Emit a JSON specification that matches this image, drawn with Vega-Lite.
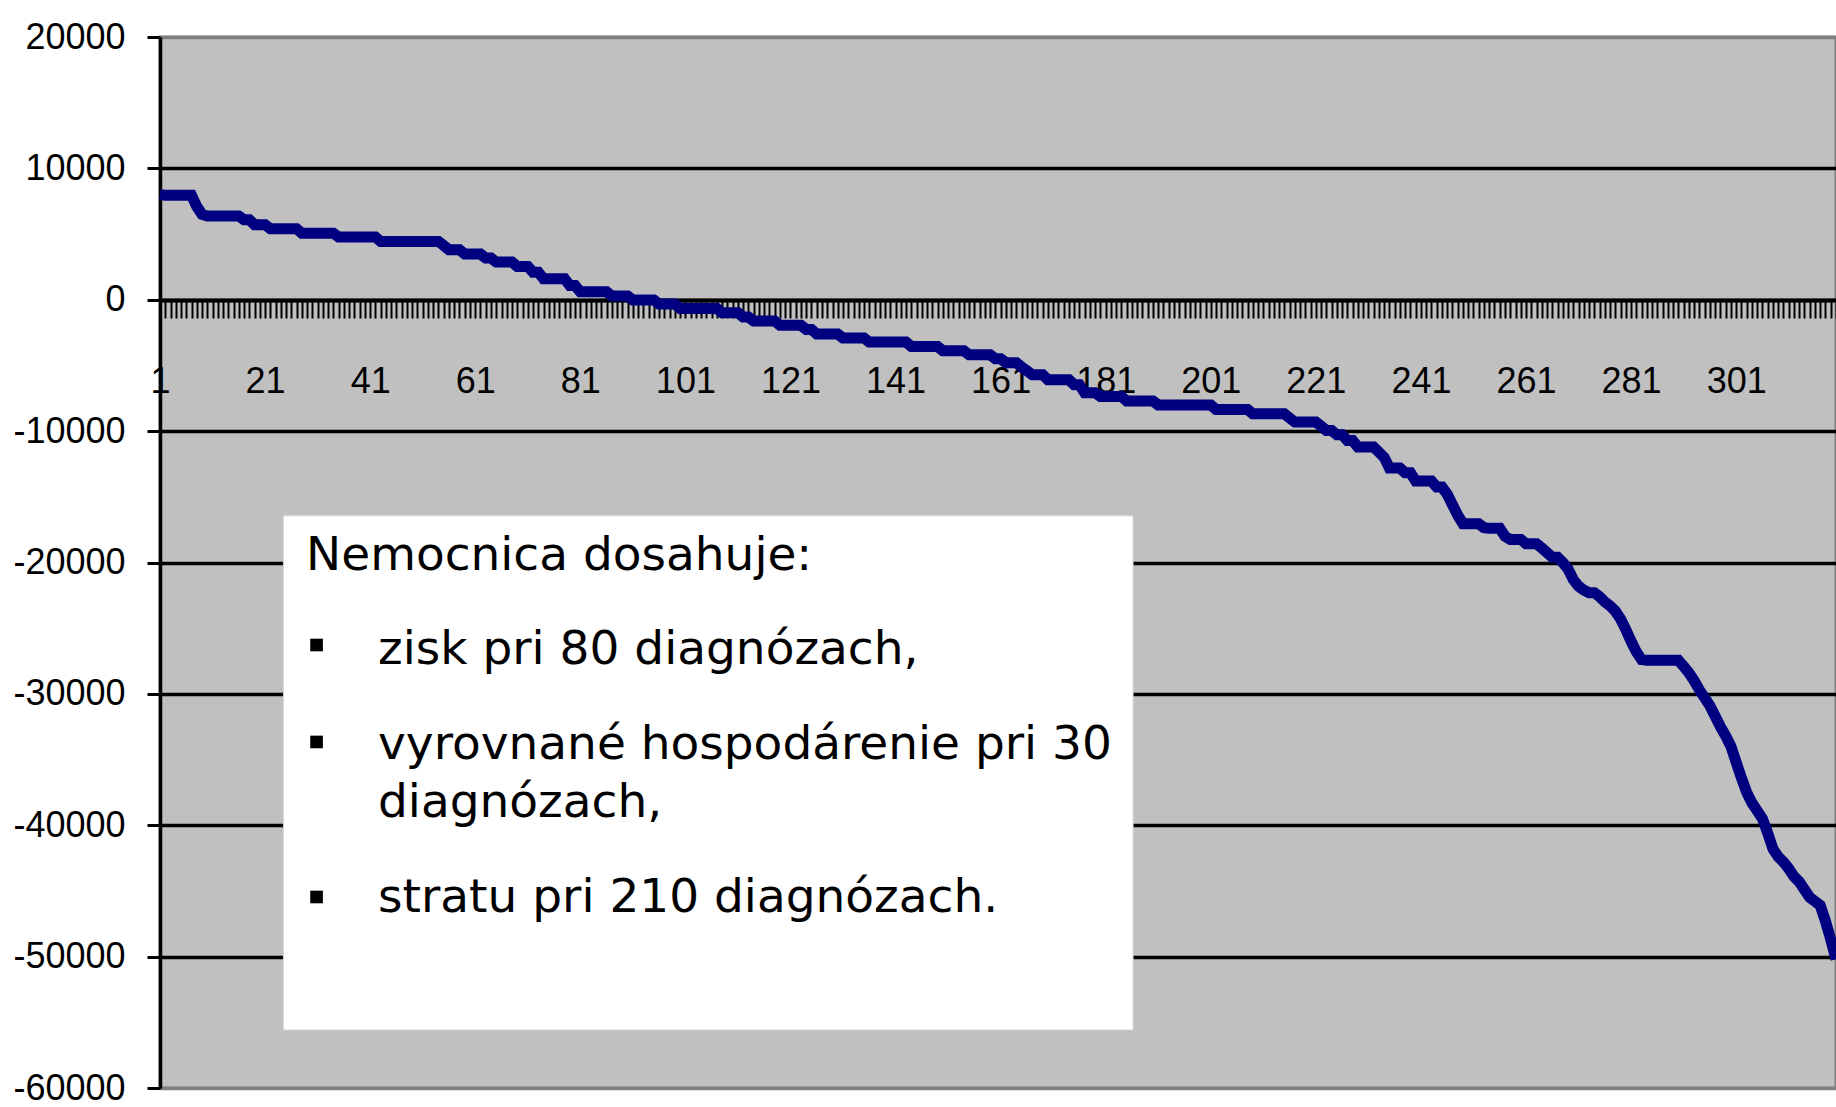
{
  "$schema": "https://vega.github.io/schema/vega-lite/v6.json",
  "width": 1676,
  "height": 1051,
  "autosize": {"type": "none"},
  "padding": {"left": 160, "top": 37, "right": 0, "bottom": 19},
  "background": "white",
  "config": {
    "view": {"fill": "#C0C0C0", "stroke": "#808080", "strokeWidth": 3}
  },
  "datasets": {
    "curve": [
      {"diag":1,"value":8000},{"diag":2,"value":7950},{"diag":3,"value":7950},{"diag":4,"value":7950},{"diag":5,"value":7950},{"diag":6,"value":7950},{"diag":7,"value":7950},{"diag":8,"value":7100},{"diag":9,"value":6500},{"diag":10,"value":6370},
      {"diag":11,"value":6370},{"diag":12,"value":6370},{"diag":13,"value":6370},{"diag":14,"value":6370},{"diag":15,"value":6370},{"diag":16,"value":6370},{"diag":17,"value":6090},{"diag":18,"value":6090},{"diag":19,"value":5710},{"diag":20,"value":5710},
      {"diag":21,"value":5710},{"diag":22,"value":5400},{"diag":23,"value":5400},{"diag":24,"value":5400},{"diag":25,"value":5400},{"diag":26,"value":5400},{"diag":27,"value":5400},{"diag":28,"value":5070},{"diag":29,"value":5070},{"diag":30,"value":5070},
      {"diag":31,"value":5070},{"diag":32,"value":5070},{"diag":33,"value":5070},{"diag":34,"value":5070},{"diag":35,"value":4770},{"diag":36,"value":4770},{"diag":37,"value":4770},{"diag":38,"value":4770},{"diag":39,"value":4770},{"diag":40,"value":4770},
      {"diag":41,"value":4770},{"diag":42,"value":4770},{"diag":43,"value":4440},{"diag":44,"value":4440},{"diag":45,"value":4440},{"diag":46,"value":4440},{"diag":47,"value":4440},{"diag":48,"value":4440},{"diag":49,"value":4440},{"diag":50,"value":4440},
      {"diag":51,"value":4440},{"diag":52,"value":4440},{"diag":53,"value":4440},{"diag":54,"value":4440},{"diag":55,"value":4130},{"diag":56,"value":3800},{"diag":57,"value":3800},{"diag":58,"value":3800},{"diag":59,"value":3480},{"diag":60,"value":3480},
      {"diag":61,"value":3480},{"diag":62,"value":3480},{"diag":63,"value":3170},{"diag":64,"value":3170},{"diag":65,"value":2870},{"diag":66,"value":2870},{"diag":67,"value":2870},{"diag":68,"value":2870},{"diag":69,"value":2540},{"diag":70,"value":2540},
      {"diag":71,"value":2540},{"diag":72,"value":2100},{"diag":73,"value":2100},{"diag":74,"value":1600},{"diag":75,"value":1600},{"diag":76,"value":1600},{"diag":77,"value":1600},{"diag":78,"value":1600},{"diag":79,"value":1090},{"diag":80,"value":1090},
      {"diag":81,"value":600},{"diag":82,"value":600},{"diag":83,"value":600},{"diag":84,"value":600},{"diag":85,"value":600},{"diag":86,"value":600},{"diag":87,"value":280},{"diag":88,"value":280},{"diag":89,"value":280},{"diag":90,"value":280},
      {"diag":91,"value":-20},{"diag":92,"value":-20},{"diag":93,"value":-20},{"diag":94,"value":-20},{"diag":95,"value":-20},{"diag":96,"value":-330},{"diag":97,"value":-330},{"diag":98,"value":-330},{"diag":99,"value":-330},{"diag":100,"value":-660},
      {"diag":101,"value":-660},{"diag":102,"value":-660},{"diag":103,"value":-660},{"diag":104,"value":-660},{"diag":105,"value":-660},{"diag":106,"value":-660},{"diag":107,"value":-660},{"diag":108,"value":-990},{"diag":109,"value":-990},{"diag":110,"value":-990},
      {"diag":111,"value":-990},{"diag":112,"value":-1320},{"diag":113,"value":-1320},{"diag":114,"value":-1620},{"diag":115,"value":-1620},{"diag":116,"value":-1620},{"diag":117,"value":-1620},{"diag":118,"value":-1620},{"diag":119,"value":-1950},{"diag":120,"value":-1950},
      {"diag":121,"value":-1950},{"diag":122,"value":-1950},{"diag":123,"value":-1950},{"diag":124,"value":-2260},{"diag":125,"value":-2260},{"diag":126,"value":-2610},{"diag":127,"value":-2610},{"diag":128,"value":-2610},{"diag":129,"value":-2610},{"diag":130,"value":-2610},
      {"diag":131,"value":-2920},{"diag":132,"value":-2920},{"diag":133,"value":-2920},{"diag":134,"value":-2920},{"diag":135,"value":-2920},{"diag":136,"value":-3220},{"diag":137,"value":-3220},{"diag":138,"value":-3220},{"diag":139,"value":-3220},{"diag":140,"value":-3220},
      {"diag":141,"value":-3220},{"diag":142,"value":-3220},{"diag":143,"value":-3220},{"diag":144,"value":-3550},{"diag":145,"value":-3550},{"diag":146,"value":-3550},{"diag":147,"value":-3550},{"diag":148,"value":-3550},{"diag":149,"value":-3550},{"diag":150,"value":-3880},
      {"diag":151,"value":-3880},{"diag":152,"value":-3880},{"diag":153,"value":-3880},{"diag":154,"value":-3880},{"diag":155,"value":-4190},{"diag":156,"value":-4190},{"diag":157,"value":-4190},{"diag":158,"value":-4190},{"diag":159,"value":-4190},{"diag":160,"value":-4490},
      {"diag":161,"value":-4490},{"diag":162,"value":-4790},{"diag":163,"value":-4790},{"diag":164,"value":-4790},{"diag":165,"value":-5120},{"diag":166,"value":-5400},{"diag":167,"value":-5700},{"diag":168,"value":-5700},{"diag":169,"value":-5700},{"diag":170,"value":-6090},
      {"diag":171,"value":-6090},{"diag":172,"value":-6090},{"diag":173,"value":-6090},{"diag":174,"value":-6090},{"diag":175,"value":-6470},{"diag":176,"value":-6470},{"diag":177,"value":-7080},{"diag":178,"value":-7080},{"diag":179,"value":-7080},{"diag":180,"value":-7360},
      {"diag":181,"value":-7360},{"diag":182,"value":-7360},{"diag":183,"value":-7360},{"diag":184,"value":-7360},{"diag":185,"value":-7710},{"diag":186,"value":-7710},{"diag":187,"value":-7710},{"diag":188,"value":-7710},{"diag":189,"value":-7710},{"diag":190,"value":-7710},
      {"diag":191,"value":-8010},{"diag":192,"value":-8010},{"diag":193,"value":-8010},{"diag":194,"value":-8010},{"diag":195,"value":-8010},{"diag":196,"value":-8010},{"diag":197,"value":-8010},{"diag":198,"value":-8010},{"diag":199,"value":-8010},{"diag":200,"value":-8010},
      {"diag":201,"value":-8010},{"diag":202,"value":-8350},{"diag":203,"value":-8350},{"diag":204,"value":-8350},{"diag":205,"value":-8350},{"diag":206,"value":-8350},{"diag":207,"value":-8350},{"diag":208,"value":-8350},{"diag":209,"value":-8680},{"diag":210,"value":-8680},
      {"diag":211,"value":-8680},{"diag":212,"value":-8680},{"diag":213,"value":-8680},{"diag":214,"value":-8680},{"diag":215,"value":-8680},{"diag":216,"value":-9000},{"diag":217,"value":-9310},{"diag":218,"value":-9310},{"diag":219,"value":-9310},{"diag":220,"value":-9310},
      {"diag":221,"value":-9310},{"diag":222,"value":-9610},{"diag":223,"value":-9950},{"diag":224,"value":-9950},{"diag":225,"value":-10270},{"diag":226,"value":-10270},{"diag":227,"value":-10710},{"diag":228,"value":-10710},{"diag":229,"value":-11210},{"diag":230,"value":-11210},
      {"diag":231,"value":-11210},{"diag":232,"value":-11210},{"diag":233,"value":-11600},{"diag":234,"value":-12000},{"diag":235,"value":-12810},{"diag":236,"value":-12810},{"diag":237,"value":-12810},{"diag":238,"value":-13170},{"diag":239,"value":-13170},{"diag":240,"value":-13800},
      {"diag":241,"value":-13800},{"diag":242,"value":-13800},{"diag":243,"value":-13800},{"diag":244,"value":-14250},{"diag":245,"value":-14250},{"diag":246,"value":-14800},{"diag":247,"value":-15600},{"diag":248,"value":-16400},{"diag":249,"value":-17050},{"diag":250,"value":-17050},
      {"diag":251,"value":-17050},{"diag":252,"value":-17050},{"diag":253,"value":-17350},{"diag":254,"value":-17400},{"diag":255,"value":-17400},{"diag":256,"value":-17400},{"diag":257,"value":-18000},{"diag":258,"value":-18240},{"diag":259,"value":-18240},{"diag":260,"value":-18240},
      {"diag":261,"value":-18570},{"diag":262,"value":-18570},{"diag":263,"value":-18570},{"diag":264,"value":-18900},{"diag":265,"value":-19250},{"diag":266,"value":-19600},{"diag":267,"value":-19600},{"diag":268,"value":-20000},{"diag":269,"value":-20500},{"diag":270,"value":-21300},
      {"diag":271,"value":-21800},{"diag":272,"value":-22100},{"diag":273,"value":-22300},{"diag":274,"value":-22300},{"diag":275,"value":-22600},{"diag":276,"value":-23000},{"diag":277,"value":-23300},{"diag":278,"value":-23700},{"diag":279,"value":-24300},{"diag":280,"value":-25100},
      {"diag":281,"value":-26000},{"diag":282,"value":-26800},{"diag":283,"value":-27400},{"diag":284,"value":-27450},{"diag":285,"value":-27450},{"diag":286,"value":-27450},{"diag":287,"value":-27450},{"diag":288,"value":-27450},{"diag":289,"value":-27450},{"diag":290,"value":-27450},
      {"diag":291,"value":-27900},{"diag":292,"value":-28400},{"diag":293,"value":-29000},{"diag":294,"value":-29700},{"diag":295,"value":-30300},{"diag":296,"value":-30900},{"diag":297,"value":-31700},{"diag":298,"value":-32500},{"diag":299,"value":-33200},{"diag":300,"value":-34000},
      {"diag":301,"value":-35200},{"diag":302,"value":-36400},{"diag":303,"value":-37500},{"diag":304,"value":-38300},{"diag":305,"value":-38900},{"diag":306,"value":-39500},{"diag":307,"value":-40600},{"diag":308,"value":-41800},{"diag":309,"value":-42400},{"diag":310,"value":-42800},
      {"diag":311,"value":-43300},{"diag":312,"value":-43900},{"diag":313,"value":-44300},{"diag":314,"value":-44900},{"diag":315,"value":-45500},{"diag":316,"value":-45800},{"diag":317,"value":-46100},{"diag":318,"value":-47300},{"diag":319,"value":-48700},{"diag":320,"value":-50200}
    ],
    "box": [{"diag": 24.5, "diag2": 186.2, "value": -16450, "value2": -55580}],
    "lines": [
      {"diag": 28.8, "value": -20570, "label": "Nemocnica dosahuje:"},
      {"diag": 42.5, "value": -27730, "label": "zisk pri 80 diagnózach,"},
      {"diag": 42.5, "value": -34960, "label": "vyrovnané hospodárenie pri 30"},
      {"diag": 42.5, "value": -39370, "label": "diagnózach,"},
      {"diag": 42.5, "value": -46600, "label": "stratu pri 210 diagnózach."}
    ],
    "bullets": [
      {"diag": 30.8, "value": -26280},
      {"diag": 30.8, "value": -33660},
      {"diag": 30.8, "value": -45460}
    ]
  },
  "encoding": {
    "x": {
      "field": "diag",
      "type": "quantitative",
      "scale": {"domain": [1, 320], "nice": false, "zero": false},
      "axis": {
        "title": null,
        "orient": "bottom",
        "offset": -788,
        "grid": false,
        "values": [1,2,3,4,5,6,7,8,9,10,11,12,13,14,15,16,17,18,19,20,21,22,23,24,25,26,27,28,29,30,31,32,33,34,35,36,37,38,39,40,41,42,43,44,45,46,47,48,49,50,51,52,53,54,55,56,57,58,59,60,61,62,63,64,65,66,67,68,69,70,71,72,73,74,75,76,77,78,79,80,81,82,83,84,85,86,87,88,89,90,91,92,93,94,95,96,97,98,99,100,101,102,103,104,105,106,107,108,109,110,111,112,113,114,115,116,117,118,119,120,121,122,123,124,125,126,127,128,129,130,131,132,133,134,135,136,137,138,139,140,141,142,143,144,145,146,147,148,149,150,151,152,153,154,155,156,157,158,159,160,161,162,163,164,165,166,167,168,169,170,171,172,173,174,175,176,177,178,179,180,181,182,183,184,185,186,187,188,189,190,191,192,193,194,195,196,197,198,199,200,201,202,203,204,205,206,207,208,209,210,211,212,213,214,215,216,217,218,219,220,221,222,223,224,225,226,227,228,229,230,231,232,233,234,235,236,237,238,239,240,241,242,243,244,245,246,247,248,249,250,251,252,253,254,255,256,257,258,259,260,261,262,263,264,265,266,267,268,269,270,271,272,273,274,275,276,277,278,279,280,281,282,283,284,285,286,287,288,289,290,291,292,293,294,295,296,297,298,299,300,301,302,303,304,305,306,307,308,309,310,311,312,313,314,315,316,317,318,319,320],
        "labelExpr": "(datum.value - 1) % 20 == 0 ? '' + datum.value : ''",
        "labelOverlap": false,
        "labelFlush": false,
        "labelFont": "Liberation Sans",
        "labelFontSize": 36,
        "labelColor": "black",
        "labelPadding": 46,
        "tickSize": 18,
        "tickWidth": 2,
        "tickColor": "black",
        "domainColor": "black",
        "domainWidth": 4
      }
    },
    "y": {
      "field": "value",
      "type": "quantitative",
      "scale": {"domain": [-60000, 20000], "nice": false},
      "axis": {
        "title": null,
        "values": [-60000, -50000, -40000, -30000, -20000, -10000, 0, 10000, 20000],
        "labelExpr": "'' + datum.value",
        "grid": true,
        "gridColor": {"condition": {"test": "datum.value === 20000 || datum.value === -60000", "value": "#808080"}, "value": "black"},
        "gridWidth": 3.5,
        "tickSize": 13,
        "tickWidth": 3,
        "tickColor": "black",
        "domainColor": "black",
        "domainWidth": 3.5,
        "labelFont": "Liberation Sans",
        "labelFontSize": 36,
        "labelColor": "black",
        "labelPadding": 22
      }
    }
  },
  "layer": [
    {
      "data": {"name": "curve"},
      "mark": {"type": "line", "color": "#000080", "strokeWidth": 11}
    },
    {
      "data": {"name": "box"},
      "mark": {"type": "rect", "fill": "white", "stroke": "#d8d8d8", "strokeWidth": 1},
      "encoding": {
        "x2": {"field": "diag2"},
        "y2": {"field": "value2"}
      }
    },
    {
      "data": {"name": "lines"},
      "mark": {"type": "text", "font": "DejaVu Sans", "fontSize": 47, "align": "left", "baseline": "alphabetic", "color": "black"},
      "encoding": {
        "text": {"field": "label"}
      }
    },
    {
      "data": {"name": "bullets"},
      "mark": {"type": "point", "shape": "square", "filled": true, "size": 160, "color": "black", "opacity": 1}
    }
  ]
}
